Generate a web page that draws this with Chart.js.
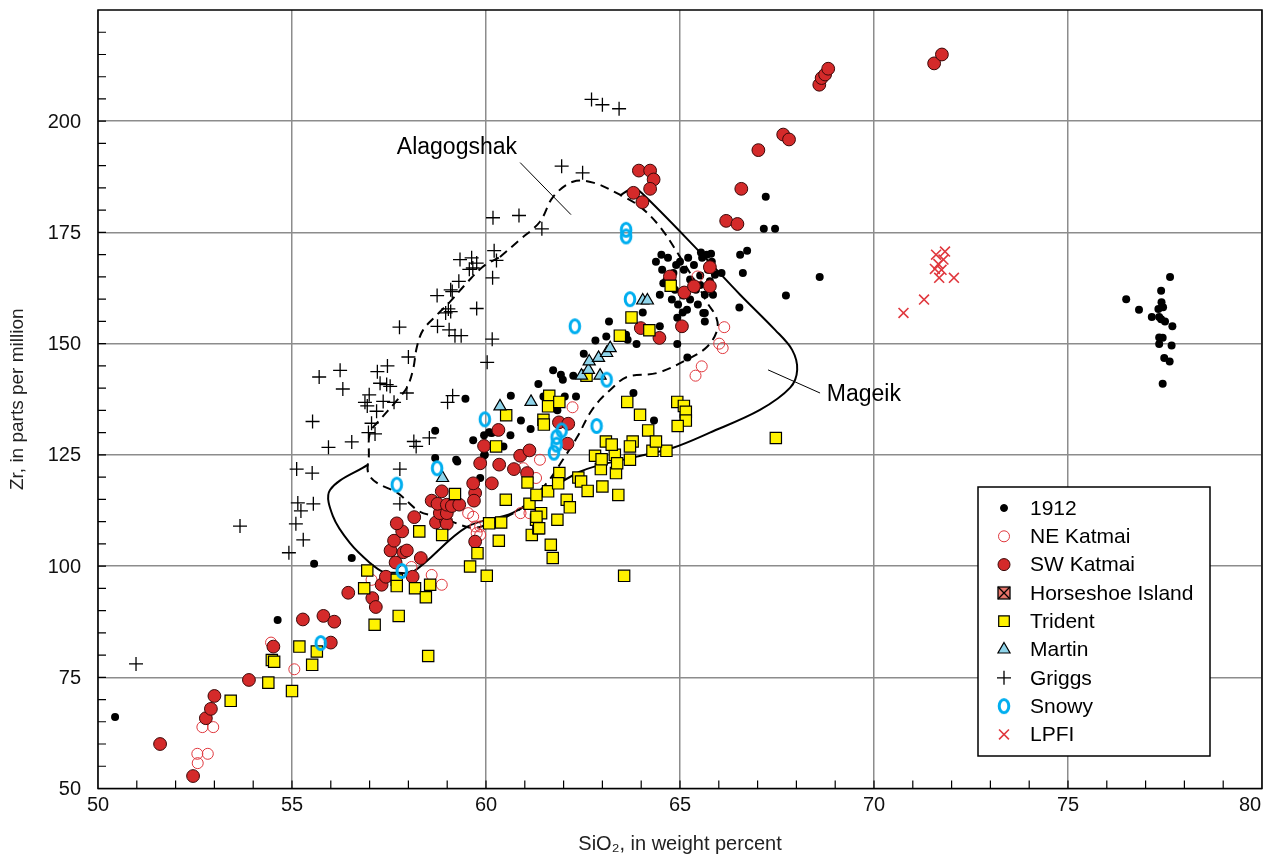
<!DOCTYPE html>
<html>
<head>
<meta charset="utf-8">
<script src="https://cdn.jsdelivr.net/npm/chart.js@4.4.1/dist/chart.umd.min.js"></script>
<style>
  html, body { margin: 0; padding: 0; background: #fff; }
</style>
</head>
<body>
<canvas id="chart" width="1276" height="861"></canvas>
<script>
// [SiO2, Zr] pairs
const pts1912 = [
  [50.44,66.1],[54.63,87.9],[55.57,100.5],[56.54,101.8],
  [58.69,130.4],[58.69,124.3],[59.23,123.9],[59.26,123.5],[59.47,137.6],[59.67,128.3],[59.85,119.8],[59.95,124.9],
  [59.95,129.4],[60.1,130],[60.08,130.1],[60.15,129.9],[60.45,126.9],[59.97,125],[60.63,129.4],[60.9,132.7],
  [61.15,130.8],[61.84,135],[60.64,138.3],[61.48,138.1],[62.03,138.1],[62.32,138.1],[61.35,140.9],[61.73,144],
  [61.93,143],[61.98,141.9],[62.25,142.8],[62.52,147.7],[62.82,150.7],[63.1,151.6],[63.17,155],[63.61,152],
  [63.65,150.9],[63.88,149.9],[64.04,157],[64.48,153.9],[64.93,149.9],[64.93,155.8],[65.19,146.9],[63.8,138.9],[64.33,132.7],
  [64.52,170],[64.57,163.6],[64.83,165.9],[65.07,157],[65.6,156.9],[65.64,155],[65.64,156.9],[66.07,165.9],
  [66.62,165.9],[66.53,158.1],[65.54,170.5],[65.69,170],[65.8,170.2],[66.55,170],[66.73,170.9],[67.21,183],
  [67.16,175.8],[67.45,175.8],[68.6,165],[67.73,160.8],
  [64.38,168.4],[64.54,166.6],[64.69,169.3],[64.79,165.5],[64.9,167.7],[65.0,168.4],[65.1,166.6],[65.21,169.3],
  [65.26,164.4],[65.36,167.7],[65.41,162.1],[65.52,165.3],[65.57,169.3],[65.64,161],[65.72,166.6],[65.77,164],
  [65.82,168.4],[64.87,162.1],[65.08,160.8],[65.26,159.9],[65.46,158.8],[64.64,164],[64.48,161],[64.95,158.8],
  [65.18,157.6],[65.52,163.2],[65.9,165.5],[65.85,161],[64.79,159.9],
  [77.63,165],[77.4,161.9],[76.5,160],[76.83,157.6],[77.41,159.3],[77.45,158.2],[77.33,157.8],[77.16,156],
  [77.35,156],[77.4,155.5],[77.5,155],[77.69,153.9],[77.35,151.4],[77.44,151.3],[77.35,149.9],[77.67,149.6],
  [77.48,146.8],[77.62,146],[77.44,141]
];

const neKatmai = [
  [52.56,57.8],[52.83,57.8],[52.57,55.7],[52.69,63.8],[52.97,63.8],[54.46,82.8],[55.06,76.8],[57.05,96.9],
  [58.08,99.8],[58.6,98],[58.86,95.8],[59.54,111.9],[59.67,111.1],[59.73,108.9],[59.76,107.4],[59.85,108.9],
  [59.85,107],[60.89,111.9],[61.12,111.9],[60.96,122],[61.07,120.1],[61.29,119.8],[61.39,123.9],[62.23,135.7],
  [65.4,142.8],[65.56,144.9],[66.01,150],[66.1,149],[66.14,153.7],[65.45,165.1]
];

const swKatmai = [
  [51.6,60],[52.45,52.8],[52.78,65.8],[52.91,67.9],[53.0,70.8],[53.89,74.4],[54.52,81.9],[55.28,88],
  [55.81,88.8],[56.09,87.5],[56.0,82.8],[56.45,94],[57.07,92.8],[57.16,90.8],[57.31,95.8],[57.42,97.6],
  [58.11,97.6],[57.67,100.8],[58.32,101.8],[57.54,103.5],[57.87,103.1],[57.96,103.5],[57.63,105.7],[57.84,107.8],
  [57.7,109.6],[58.15,111],[58.71,109.8],[58.97,110.2],[58.99,109.5],[58.81,111.9],[58.99,111.9],[58.6,114.7],
  [58.75,114],[58.99,113.8],[59.12,113.5],[59.31,113.8],[58.86,116.8],[59.72,116.4],[59.69,114.7],[59.67,118.6],
  [60.15,118.6],[59.72,105.5],[59.85,123.1],[59.95,127],[60.32,130.6],[60.34,122.8],[60.72,121.8],[60.88,124.8],
  [61.12,126],[61.06,120.9],[61.88,132.3],[62.12,132],[62.1,127.5],
  [63.99,153.5],[64.47,151.3],[64.74,165.1],[65.05,153.9],[65.11,161.5],[65.36,162.9],[65.77,162.9],[65.77,167.2],
  [63.8,183.9],[64.03,181.8],[63.94,188.9],[64.23,188.9],[64.32,186.9],[64.23,184.8],[66.19,177.6],[66.48,176.9],
  [66.58,184.8],[67.02,193.5],[67.66,197],[67.81,195.9],[68.59,208.2],[68.65,209.7],[68.74,210.5],[68.82,211.8],
  [71.55,213],[71.75,215]
];

const horseshoe = [];

const trident = [
  [53.42,69.7],[54.39,73.8],[55.0,71.9],[54.48,78.9],[54.54,78.5],[55.52,77.8],[55.19,81.9],[55.64,80.8],
  [56.86,95],[56.94,99],[57.13,86.8],[57.75,88.8],[57.7,96.9],[57.7,95.5],[58.17,95],[58.56,95.8],
  [58.45,93],[58.51,79.8],[58.28,107.8],[58.87,107],[59.2,116.2],[59.59,99.9],[59.78,102.9],[60.02,97.8],
  [60.08,109.6],[60.39,109.8],[60.33,105.7],[60.51,114.9],[60.26,126.9],[60.52,133.9],[61.18,107],[61.35,108.5],
  [61.29,110.4],[61.67,104.8],[61.72,101.8],[61.84,110.4],[61.42,111.9],[61.3,111.1],[61.37,108.5],[61.12,114],
  [61.3,116],[61.6,116.8],[62.08,114.9],[62.16,113.2],[61.07,118.8],[61.89,120.9],[61.86,118.6],[62.38,119.9],
  [62.45,119],[62.62,116.9],[63.0,117.9],[63.41,116],[62.96,121.8],[63.35,120.9],[62.81,124.8],[62.98,124],
  [63.32,125],[63.38,123.1],[63.71,123.9],[63.09,128],[63.24,127.3],[63.78,128],[63.71,126.9],[64.29,125.9],
  [64.65,125.9],[64.18,130.5],[64.38,128],[63.64,136.9],[63.97,134],[64.93,136.9],[65.1,136],[65.15,134.7],
  [65.15,132.7],[64.94,131.5],[61.63,138.3],[61.6,135.9],[61.89,136.9],[61.48,132.9],[61.49,131.8],[63.56,97.8],
  [67.47,128.8],[62.59,142.8],[63.45,151.8],[63.75,155.9],[64.21,153],[64.76,163]
];

const martin = [
  [58.88,119.8],[60.36,135.9],[61.16,136.9],[62.46,142.8],[62.64,144.1],[62.66,146],[62.9,146.8],[62.94,142.8],
  [63.11,147.9],[63.2,149],[64.04,159.7],[64.16,159.7]
];

const griggs = [
  [50.98,78],[53.66,109],[54.92,103],[55.15,114.2],[55.23,112.4],[55.1,109.5],[55.55,114],[55.29,105.9],
  [55.12,121.8],[55.52,120.9],[55.53,132.5],[55.7,142.5],[55.94,126.7],[56.24,144],[56.31,139.8],[56.54,127.9],
  [56.88,136.8],[56.94,136],[56.99,138.5],[56.97,130],[57.05,132.1],[57.14,129.7],[57.18,134.8],[57.2,143.7],
  [57.27,141.1],[57.35,137],[57.44,140.8],[57.46,145],[57.53,140.4],[57.63,136.8],[57.77,153.7],[57.78,121.8],
  [57.78,114],[57.96,138.9],[58.0,147],[58.14,128],[58.2,126.9],[58.54,128.8],[58.74,160.8],[58.75,153.9],
  [58.96,156.9],[59.03,157.8],[59.05,153.1],[59.09,157.2],[59.09,162.1],[59.13,161.7],[59.2,151.8],[59.36,151.8],
  [59.3,164],[59.33,168.9],[59.57,166.7],[59.63,169.3],[59.66,167],[59.76,168.1],[59.76,157.9],[60.03,145.8],
  [60.16,151],[60.17,164.8],[60.21,170.9],[60.27,168.7],[59.01,136.8],[59.14,138.3],[60.18,178.3],[60.85,178.8],
  [61.44,175.8],[61.95,189.9],[62.49,188.4],[62.72,204.9],[63.0,203.7],[63.43,202.8]
];

const snowy = [
  [55.74,82.7],[57.83,98.9],[57.7,118.3],[58.74,122],[59.97,133],[61.75,125.5],[61.82,127.3],[61.82,129],
  [61.95,130.5],[62.85,131.5],[63.11,141.9],[62.29,153.9],[63.71,160],[63.61,174.1],[63.61,175.6]
];

const lpfi = [
  [70.76,156.9],[71.29,159.9],[71.68,164.8],[72.06,164.8],[71.57,166.8],[71.74,166.6],[71.66,167.9],[71.79,168.9],
  [71.6,170],[71.83,170.7]
];

// field outlines
const alagogshakLine = [
  [60.36,169.5],[60.88,173.4],[61.39,177.4],[61.73,183.0],[62.24,186.4],[62.76,186.2],[63.45,183.5],[63.97,180.8],
  [64.48,176.3],[65.0,169.5],[65.52,162.1],[65.7,159.2],[65.93,156.0],[65.96,153.1],[65.7,149.3],[65.18,146.4],
  [64.41,143.4],[63.63,142.5],[63.2,139.6],[62.94,137.4],[62.68,134.4],[62.35,129.0],[61.98,123.9],[61.57,118.7],
  [60.95,113.3],[60.54,111.1],[59.85,108.8],[59.51,108.8],[58.81,111.1],[58.3,112.2],[57.71,116.5],[57.19,118.7],
  [56.96,121.0],[56.98,124.6],[57.01,130.0],[57.27,132.9],[57.65,136.7],[57.96,140.1],[58.12,144.2],[58.22,149.3],
  [58.38,153.1],[58.74,156.5],[59.07,159.4],[59.51,163.7],[59.92,167.3],[60.36,169.5]
];
const mageikLine = [
  [63.45,183.3],[63.79,184.9],[64.02,183.8],[65.52,170.5],[66.55,161.0],[67.45,153.1],[67.89,148.6],[68.02,144.1],
  [67.84,140.1],[67.06,135.1],[65.77,130.0],[64.82,126.6],[63.89,124.6],[62.42,121.2],[60.7,112.0],[59.51,108.8],
  [58.12,98.7],[57.71,98.5],[57.35,98.7],[57.01,100.7],[56.49,105.2],[56.06,111.1],[55.98,117.1],[56.96,122.8]
];
const alagogshakLeader = [[60.88,190.7],[62.19,179.0]];
const mageikLeader = [[67.27,144.1],[68.61,138.9]];

const xTicks = [50, 55, 60, 65, 70, 75, 80];
const yTicks = [50, 75, 100, 125, 150, 175, 200];

const FONT = '"Liberation Sans", Arial, Helvetica, sans-serif';
const toXY = arr => arr.map(p => ({ x: p[0], y: p[1] }));

// custom markers
const snowyMark = (() => {
  const c = document.createElement('canvas');
  c.width = 16; c.height = 20;
  const g = c.getContext('2d');
  g.strokeStyle = '#00aeef';
  g.lineWidth = 3;
  g.beginPath();
  g.ellipse(8, 10, 4.8, 6.6, 0, 0, Math.PI * 2);
  g.stroke();
  return c;
})();

const horseshoeMark = (() => {
  const c = document.createElement('canvas');
  c.width = 16; c.height = 16;
  const g = c.getContext('2d');
  g.fillStyle = '#e9766b';
  g.fillRect(2, 2, 12, 12);
  g.strokeStyle = '#000';
  g.lineWidth = 1.3;
  g.strokeRect(2, 2, 12, 12);
  g.beginPath();
  g.moveTo(2, 2); g.lineTo(14, 14);
  g.moveTo(14, 2); g.lineTo(2, 14);
  g.stroke();
  return c;
})();

const outline = (data, dash, order) => ({
  label: '',
  data: toXY(data),
  showLine: true,
  borderColor: '#000',
  borderWidth: 2,
  borderDash: dash,
  pointRadius: 0,
  tension: 0.35,
  fill: false,
  order: order
});

const datasets = [
  { label: 'LPFI', data: toXY(lpfi), pointStyle: 'crossRot', pointRadius: 7, borderColor: '#e0383e', borderWidth: 1.6, backgroundColor: '#e0383e', order: 1 },
  { label: 'Snowy', data: toXY(snowy), pointStyle: snowyMark, order: 2 },
  { label: 'Martin', data: toXY(martin), pointStyle: 'triangle', pointRadius: 7, backgroundColor: '#8fd4ea', borderColor: '#000', borderWidth: 1.2, order: 3 },
  { label: 'Trident', data: toXY(trident), pointStyle: 'rect', pointRadius: 8, backgroundColor: '#fff200', borderColor: '#000', borderWidth: 1.2, order: 4 },
  { label: 'Horseshoe Island', data: toXY(horseshoe), pointStyle: horseshoeMark, order: 5 },
  { label: 'SW Katmai', data: toXY(swKatmai), pointStyle: 'circle', pointRadius: 6.4, backgroundColor: '#d42a2a', borderColor: '#3a0808', borderWidth: 1, order: 6 },
  { label: 'NE Katmai', data: toXY(neKatmai), pointStyle: 'circle', pointRadius: 5.5, backgroundColor: 'rgba(255,255,255,0)', borderColor: '#e0383e', borderWidth: 1, order: 7 },
  { label: '1912', data: toXY(pts1912), pointStyle: 'circle', pointRadius: 4, backgroundColor: '#000', borderColor: '#000', borderWidth: 0, order: 8 },
  { label: 'Griggs', data: toXY(griggs), pointStyle: 'cross', pointRadius: 7, borderColor: '#000', borderWidth: 1.3, backgroundColor: '#000', order: 9 },
  outline(alagogshakLine, [9, 6], 10),
  outline(mageikLine, [], 10),
  Object.assign(outline(alagogshakLeader, [], 10), { borderWidth: 1, tension: 0 }),
  Object.assign(outline(mageikLeader, [], 10), { borderWidth: 1, tension: 0 })
];

const legendOrder = ['1912', 'NE Katmai', 'SW Katmai', 'Horseshoe Island', 'Trident', 'Martin', 'Griggs', 'Snowy', 'LPFI'];

const decorations = {
  id: 'decorations',
  afterDraw(chart) {
    const { ctx, chartArea: a, scales: { x, y } } = chart;
    ctx.save();
    // frame
    ctx.strokeStyle = '#000';
    ctx.lineWidth = 1.5;
    ctx.strokeRect(a.left, a.top, a.right - a.left, a.bottom - a.top);
    // inward minor ticks
    ctx.lineWidth = 1.2;
    ctx.beginPath();
    for (let v = 55; v < 225; v += 5) {
      const py = y.getPixelForValue(v);
      ctx.moveTo(a.left, py); ctx.lineTo(a.left + 8, py);
    }
    for (let v = 51; v < 80; v++) {
      const px = x.getPixelForValue(v);
      ctx.moveTo(px, a.bottom); ctx.lineTo(px, a.bottom - 8);
    }
    ctx.stroke();

    // tick labels
    ctx.fillStyle = '#111';
    ctx.font = '20px ' + FONT;
    ctx.textAlign = 'center';
    ctx.textBaseline = 'middle';
    xTicks.forEach(v => {
      const px = Math.min(x.getPixelForValue(v), chart.width - 26);
      ctx.fillText(String(v), px, a.bottom + 17);
    });
    ctx.textAlign = 'right';
    yTicks.forEach(v => {
      ctx.fillText(String(v), a.left - 17, y.getPixelForValue(v) + 1);
    });

    // field labels
    ctx.fillStyle = '#000';
    ctx.textAlign = 'center';
    ctx.font = '23px ' + FONT;
    ctx.fillText('Alagogshak', x.getPixelForValue(59.25), y.getPixelForValue(194.1));
    ctx.fillText('Mageik', x.getPixelForValue(69.74), y.getPixelForValue(138.5));

    // legend box
    const bx = 978, by = 487, bw = 232, bh = 269;
    ctx.fillStyle = '#fff';
    ctx.fillRect(bx, by, bw, bh);
    ctx.strokeStyle = '#000';
    ctx.lineWidth = 1.5;
    ctx.strokeRect(bx, by, bw, bh);
    ctx.font = '21px ' + FONT;
    ctx.textAlign = 'left';
    legendOrder.forEach((name, i) => {
      const ds = chart.data.datasets.find(d => d.label === name);
      const cy = by + 21 + i * 28.3;
      const cx = bx + 26;
      ctx.fillStyle = ds.backgroundColor || '#000';
      ctx.strokeStyle = ds.borderColor || '#000';
      ctx.lineWidth = ds.borderWidth || 1;
      const r = name === '1912' ? 3.5 : name === 'SW Katmai' ? 6 : name === 'Trident' ? 7.5 : (ds.pointRadius || 6);
      Chart.helpers.drawPoint(ctx, { pointStyle: ds.pointStyle, radius: r, borderWidth: ds.borderWidth || 1, rotation: 0 }, cx, cy);
      ctx.fillStyle = '#000';
      ctx.fillText(name, bx + 52, cy + 1);
    });
    ctx.restore();
  }
};

new Chart(document.getElementById('chart'), {
  type: 'scatter',
  data: { datasets: datasets },
  options: {
    responsive: false,
    animation: false,
    layout: { padding: { top: 10, right: 14, left: 0, bottom: 0 } },
    plugins: { legend: { display: false }, tooltip: { enabled: false } },
    scales: {
      x: {
        type: 'linear', min: 50, max: 80,
        afterFit: s => { s.height = 72.5; },
        afterBuildTicks: s => { s.ticks = xTicks.map(v => ({ value: v })); },
        grid: { color: '#8c8c8c', lineWidth: 1.5, drawTicks: false },
        border: { display: false },
        ticks: { display: false },
        title: { display: true, text: 'SiO₂, in weight percent', color: '#222', font: { family: FONT, size: 20 }, padding: { top: 0, bottom: 5 } }
      },
      y: {
        type: 'linear', min: 50, max: 225,
        afterFit: s => { s.width = 98; },
        afterBuildTicks: s => { s.ticks = yTicks.map(v => ({ value: v })); },
        grid: { color: '#8c8c8c', lineWidth: 1.5, drawTicks: false },
        border: { display: false },
        ticks: { display: false },
        title: { display: true, text: 'Zr, in parts per million', color: '#222', font: { family: FONT, size: 19 }, padding: { top: 6, bottom: 0 } }
      }
    }
  },
  plugins: [decorations]
});
</script>
</body>
</html>
